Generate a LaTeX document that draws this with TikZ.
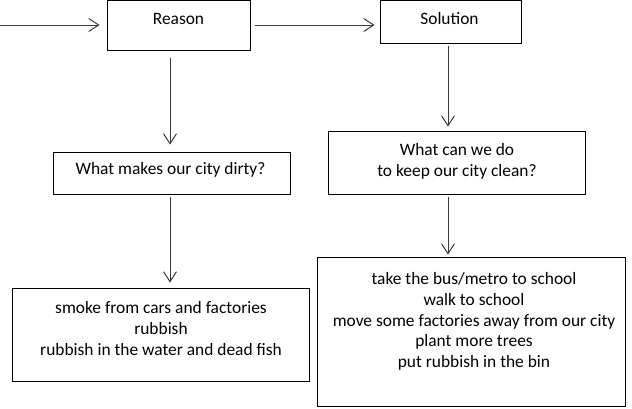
\documentclass[tikz,border=0pt]{standalone}
\usepackage{fontspec}
\setmainfont{Carlito}
\usetikzlibrary{arrows.meta}
\definecolor{arrgray}{HTML}{3A3A3A}
\tikzset{
  box/.style={draw=black, line width=0.8pt, rectangle, inner sep=0pt},
  txt/.style={inner sep=0pt, align=center, font=\fontsize{17.4pt}{20.8pt}\selectfont},
  arr/.style={draw=arrgray, line width=1pt, -{Straight Barb[length=10pt,width=13pt,line width=1pt]}}
}
\begin{document}
\begin{tikzpicture}[x=1pt,y=1pt]
\useasboundingbox (0,0) rectangle (632,-408);
% boxes
\node[box, minimum width=143, minimum height=50] (reason) at (178.5,-25) {};
\node[box, minimum width=141, minimum height=43] (solution) at (450.5,-21.5) {};
\node[box, minimum width=237, minimum height=42] (q1) at (171.5,-173) {};
\node[box, minimum width=257, minimum height=63] (q2) at (456.5,-162.5) {};
\node[box, minimum width=297, minimum height=93] (a1) at (160.5,-334.5) {};
\node[box, minimum width=308, minimum height=149] (a2) at (471.5,-331.5) {};
% texts
\node[txt] (reasont) at (178.5,-19) {Reason};
\node[txt] (solutiont) at (449.5,-19) {Solution};
\node[txt] (q1t) at (170.5,-170) {What makes our city dirty?};
\node[txt] (q2t) at (457,-161) {What can we do\\to keep our city clean?};
\node[txt] (a1t) at (161,-328.5) {smoke from cars and factories\\rubbish\\rubbish in the water and dead fish};
\node[txt] (a2t) at (474,-321.5) {take the bus/metro to school\\walk to school\\move some factories away from our city\\plant more trees\\put rubbish in the bin};
% connectors
\coordinate (start) at (0,-25);
\draw[arr, shorten >=7pt] (start) -- (reason.west);
\draw[arr, shorten <=5pt, shorten >=5pt] (reason.east) -- (reason.east -| solution.west);
\draw[arr, shorten <=8pt, shorten >=7pt] ([xshift=-8.5]reason.south) -- ([xshift=-1.5]q1.north);
\draw[arr, shorten <=3pt, shorten >=5pt] ([xshift=-1.5]q1.south) -- ([xshift=9.5]a1.north);
\draw[arr, shorten <=3pt, shorten >=4pt] ([xshift=-2.5]solution.south) -- ([xshift=-8.5]q2.north);
\draw[arr, shorten <=3pt, shorten >=2pt] ([xshift=-8.5]q2.south) -- ([xshift=-23.5]a2.north);
\end{tikzpicture}
\end{document}
